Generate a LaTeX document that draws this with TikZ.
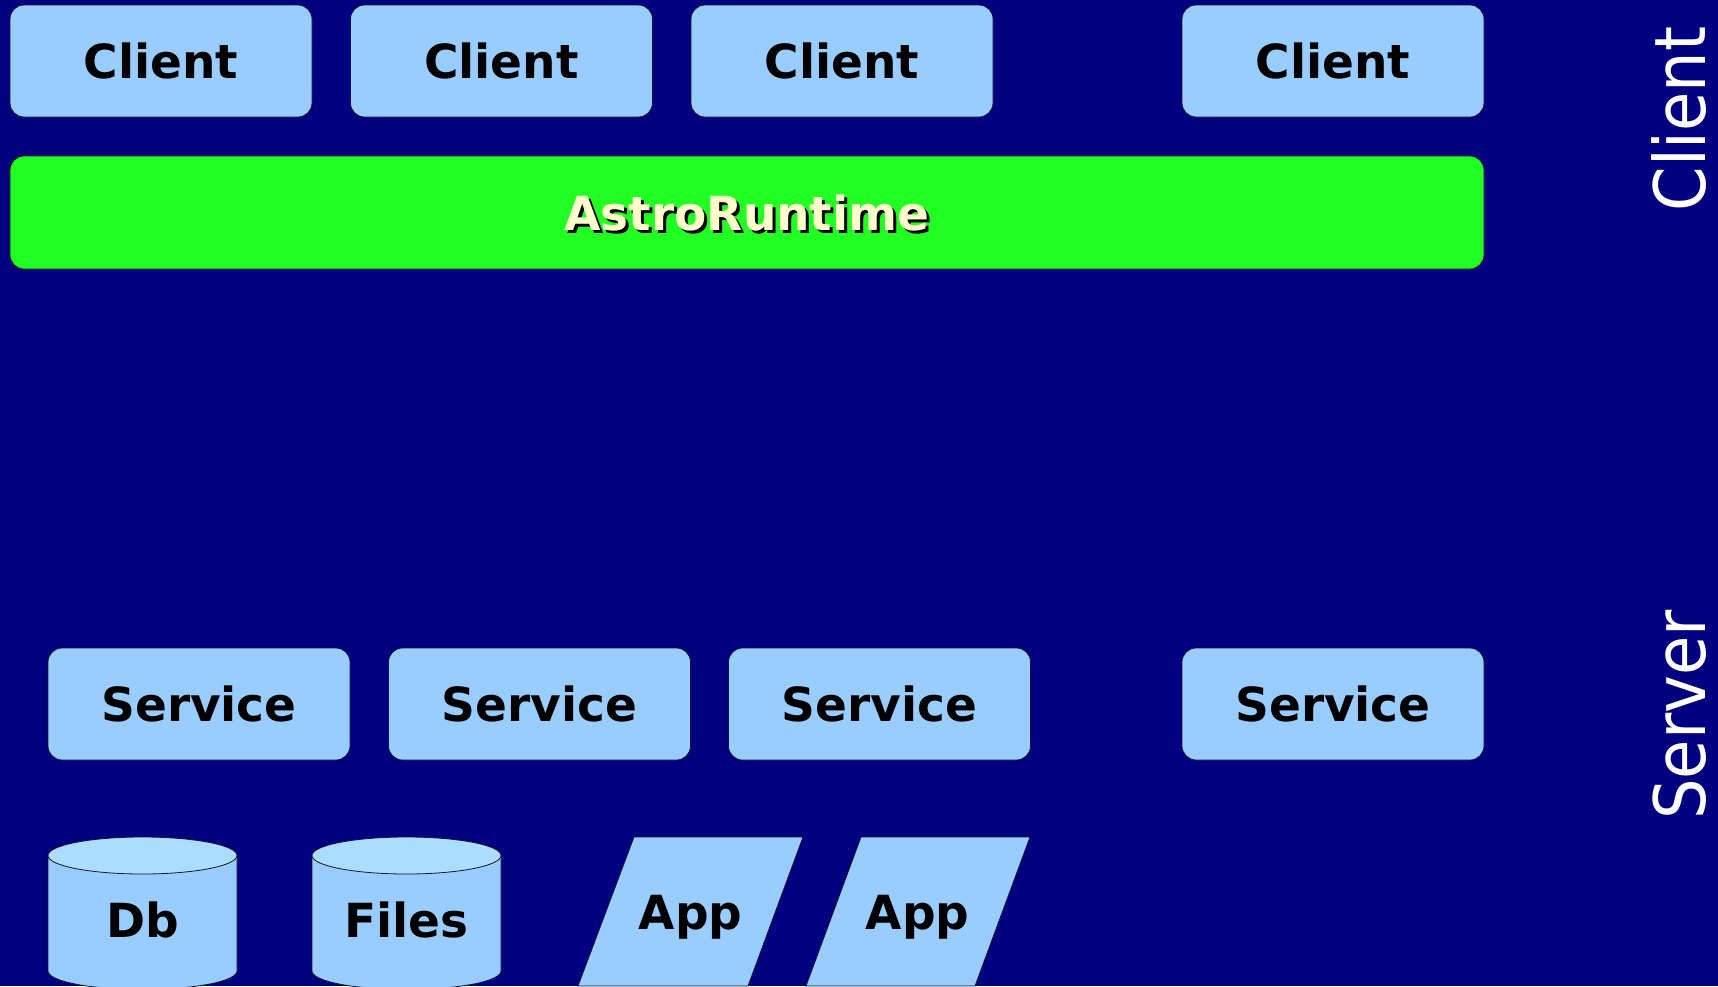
\documentclass[tikz,border=0pt]{standalone}
\usepackage{fontspec}
\setmainfont{DejaVu Sans}
\usepackage{graphicx}
\definecolor{navybg}{RGB}{0,0,128}
\definecolor{boxblue}{RGB}{153,204,255}
\definecolor{topblue}{RGB}{170,221,255}
\definecolor{rtgreen}{RGB}{34,255,34}
\definecolor{cream}{RGB}{255,255,204}
\definecolor{edge}{RGB}{20,20,40}
\begin{document}
\begin{tikzpicture}[x=1pt,y=-1pt,
  bigfont/.style={font=\fontsize{47}{47}\selectfont\bfseries},
  box/.style={draw=edge, line width=0.8pt, fill=boxblue, rounded corners=14pt,
    minimum width=302pt, minimum height=112pt, inner sep=0pt, bigfont, text depth=0pt},
  bar/.style={draw=edge, line width=0.8pt, fill=rtgreen, rounded corners=14pt,
    minimum width=1474pt, minimum height=113pt, inner sep=0pt},
  shapeline/.style={draw=edge, line width=0.8pt},
  lbl/.style={inner sep=0pt, bigfont, text depth=0pt},
  side/.style={rotate=90, anchor=base, inner sep=0pt, text=white, font=\fontsize{71}{71}\selectfont}
]
\fill[navybg] (0,0) rectangle (1718,986);
\useasboundingbox (0,0) rectangle (1718,986);

% clients
\node[box] (c1) at (161,61) {Client};
\node[box] (c2) at (501.5,61) {Client};
\node[box] (c3) at (842,61) {Client};
\node[box] (c4) at (1333,61) {Client};

% runtime bar
\node[bar] (rt) at (747,212.5) {};
\node[lbl, text=black] (rtshadow) at ([xshift=3pt,yshift=-3pt]rt.center) {AstroRuntime};
\node[lbl, text=cream] (rtlabel) at (rt.center) {AstroRuntime};

% services
\node[box] (s1) at (199,704) {Service};
\node[box] (s2) at (539.5,704) {Service};
\node[box] (s3) at (879.5,704) {Service};
\node[box] (s4) at (1333,704) {Service};

\begin{scope}
\clip (0,0) rectangle (1718,986);
% Db cylinder
\path[shapeline, fill=boxblue] (48,855.5) -- (48,971) arc[start angle=180, end angle=360, x radius=94.5pt, y radius=18.5pt] -- (237,855.5) -- cycle;
\path[shapeline, fill=topblue] (142.5,855.5) ellipse [x radius=94.5pt, y radius=18.5pt];
% Files cylinder
\path[shapeline, fill=boxblue] (312,855.5) -- (312,971) arc[start angle=180, end angle=360, x radius=94.5pt, y radius=18.5pt] -- (501,855.5) -- cycle;
\path[shapeline, fill=topblue] (406.5,855.5) ellipse [x radius=94.5pt, y radius=18.5pt];
% App parallelograms
\path[shapeline, fill=boxblue] (634,837) -- (803,837) -- (748,986) -- (578,986) -- cycle;
\path[shapeline, fill=boxblue] (861,837) -- (1030,837) -- (975,986) -- (806,986) -- cycle;
\end{scope}

\node[lbl] (db) at (142.5,920) {Db};
\node[lbl] (files) at (406.5,920) {Files};
\node[lbl] (app1) at (690.5,912) {App};
\node[lbl] (app2) at (917.5,912) {App};

% side labels
\node[side] (sclient) at (1705,119) {\scalebox{0.9}[1]{Client}};
\node[side] (sserver) at (1705,715) {\scalebox{0.9}[1]{Server}};
\end{tikzpicture}
\end{document}
